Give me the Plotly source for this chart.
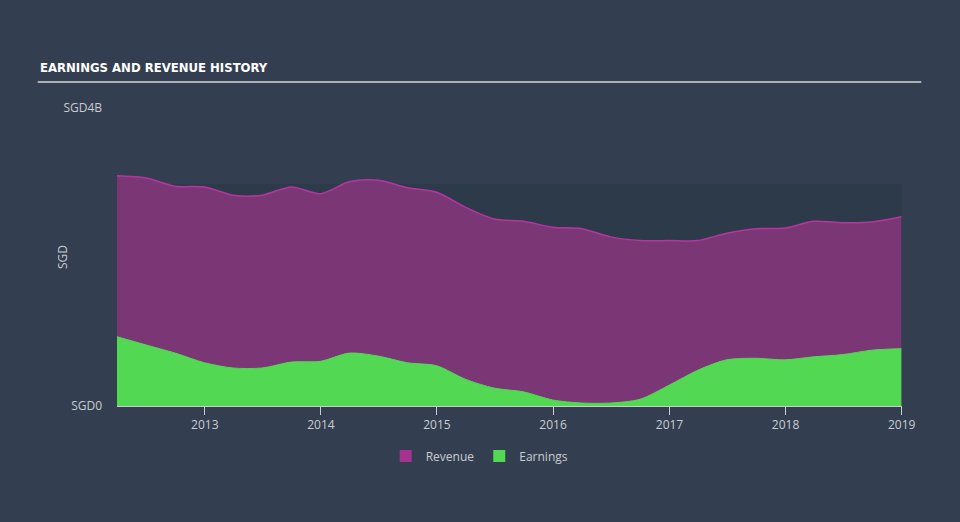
import plotly.graph_objects as go

dates = ["2012-03-31", "2012-06-30", "2012-09-30", "2012-12-31",
         "2013-03-31", "2013-06-30", "2013-09-30", "2013-12-31",
         "2014-03-31", "2014-06-30", "2014-09-30", "2014-12-31",
         "2015-03-31", "2015-06-30", "2015-09-30", "2015-12-31",
         "2016-03-31", "2016-06-30", "2016-09-30", "2016-12-31",
         "2017-03-31", "2017-06-30", "2017-09-30", "2017-12-31",
         "2018-03-31", "2018-06-30", "2018-09-30", "2018-12-31"]

revenue = [3.09, 3.06, 2.95, 2.94, 2.83, 2.83, 2.94, 2.85,
           3.01, 3.03, 2.93, 2.87, 2.67, 2.51, 2.48, 2.40,
           2.38, 2.27, 2.22, 2.22, 2.22, 2.32, 2.38, 2.39,
           2.48, 2.46, 2.47, 2.54]  # SGD billions

earnings = [0.93, 0.82, 0.71, 0.58, 0.51, 0.51, 0.59, 0.60,
            0.71, 0.67, 0.58, 0.54, 0.36, 0.24, 0.19, 0.08,
            0.04, 0.04, 0.09, 0.28, 0.48, 0.62, 0.64, 0.62,
            0.66, 0.69, 0.75, 0.77]  # SGD billions

y_tickvals = [0, 4e9]
y_ticktext = ["SGD0", "SGD4B"]

BG = "#333f50"
DARK = "#2d3a4a"
TXT = "#c9ccd1"
REV_FILL = "#7b3775"
REV_LINE = "#b3379f"
EARN = "#53d853"

fig = go.Figure()
fig.add_trace(go.Scatter(
    x=dates, y=[v * 1e9 for v in revenue], name="Revenue", showlegend=False,
    mode="lines", line=dict(color=REV_LINE, width=1.5, shape="spline", smoothing=0.8),
    fill="tozeroy", fillcolor=REV_FILL,
))
fig.add_trace(go.Scatter(
    x=dates, y=[v * 1e9 for v in earnings], name="Earnings", showlegend=False,
    mode="lines", line=dict(color=EARN, width=1, shape="spline", smoothing=0.8),
    fill="tozeroy", fillcolor=EARN,
))
# legend swatches (square)
fig.add_trace(go.Bar(x=[None], y=[None], name="Revenue", marker=dict(color="#a4338f", line=dict(width=0))))
fig.add_trace(go.Bar(x=[None], y=[None], name="Earnings", marker=dict(color=EARN, line=dict(width=0))))

fig.add_shape(type="rect", xref="paper", yref="y", x0=0, x1=1, y0=0, y1=2.98e9,
              fillcolor=DARK, line=dict(width=0), layer="below")
# title underline
fig.add_shape(type="line", xref="paper", yref="paper", x0=-0.101, x1=1.0245,
              y0=1.087, y1=1.087, line=dict(color="#aab0b8", width=2))

fig.add_annotation(text="<b>EARNINGS AND REVENUE HISTORY</b>", xref="paper", yref="paper",
                   x=-0.101, y=1.103, xanchor="left", yanchor="bottom", showarrow=False,
                   font=dict(family="DejaVu Sans Condensed, Liberation Sans Narrow, Open Sans, sans-serif",
                             size=13, color="#ffffff"))
fig.add_annotation(text="SGD", xref="paper", yref="paper", x=-0.07, y=0.5,
                   xanchor="center", yanchor="middle",
                   textangle=-90, showarrow=False,
                   font=dict(family="Open Sans, sans-serif", size=12, color=TXT))

fig.update_layout(
    width=960, height=522,
    margin=dict(l=117, r=58, t=108, b=116),
    paper_bgcolor=BG, plot_bgcolor=BG,
    font=dict(family="Open Sans, sans-serif", size=12, color=TXT),
    showlegend=True,
    legend=dict(orientation="h", x=0.462, xanchor="center", y=-0.168, yanchor="middle",
                itemwidth=30, font=dict(size=12, color=TXT), bgcolor="rgba(0,0,0,0)"),
    xaxis=dict(type="date", range=["2012-03-31", "2019-01-02"], showgrid=False,
               zeroline=False, showline=True, linecolor=TXT, linewidth=1,
               ticks="outside", ticklen=8, tickcolor=TXT,
               dtick="M12", tick0="2013-01-01", tickformat="%Y",
               tickfont=dict(size=12, color=TXT)),
    yaxis=dict(range=[0, 4e9], showgrid=False, zeroline=False, showline=False,
               tickvals=y_tickvals, ticktext=y_ticktext, ticks="",
               ticklabelstandoff=14, tickfont=dict(size=12, color=TXT)),
)

fig.write_html("out.html", config={"displayModeBar": False},
               post_script="document.body.style.margin='0px';")
